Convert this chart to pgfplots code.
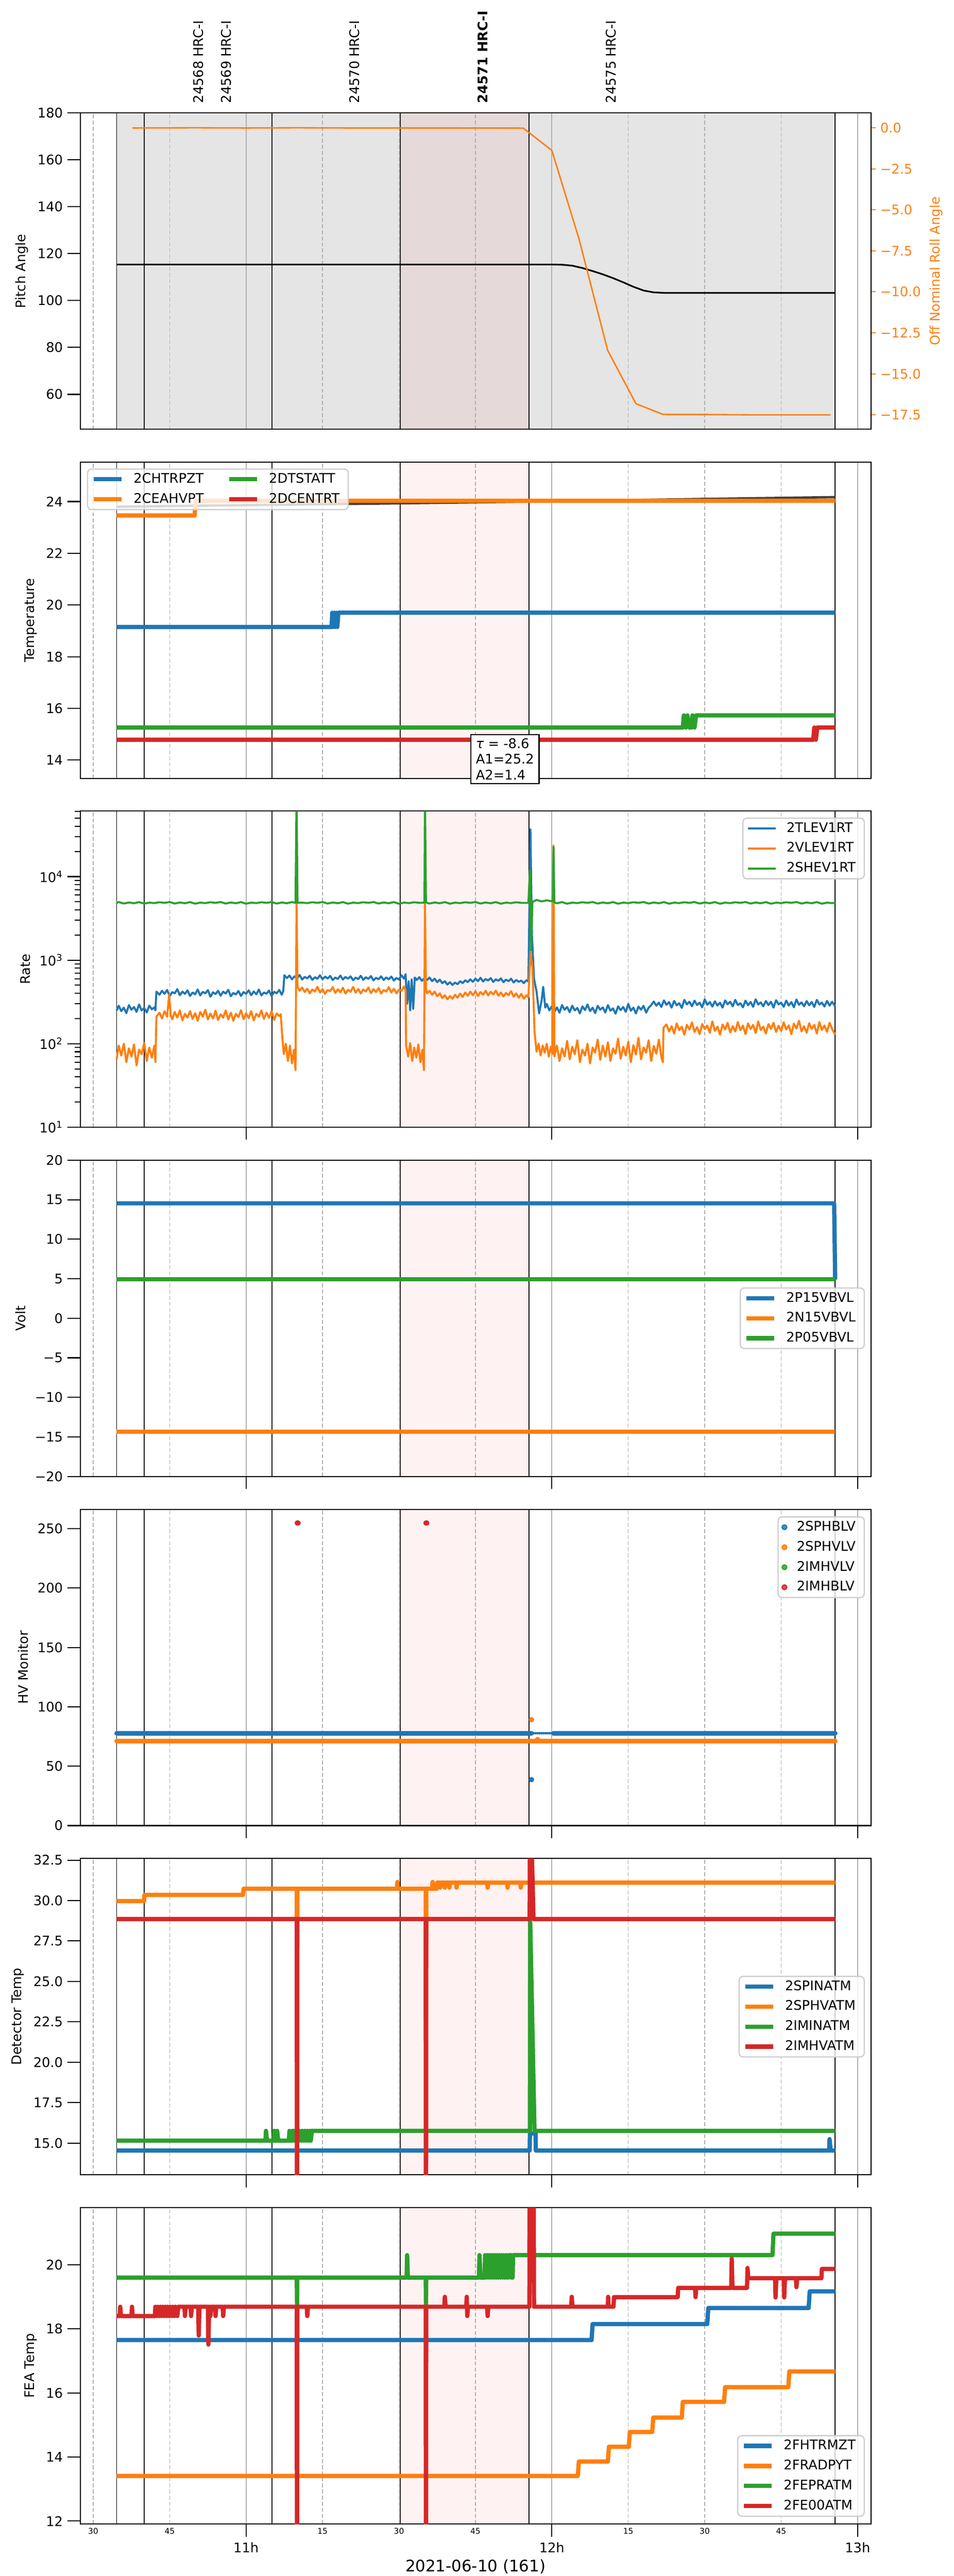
\documentclass[border=0pt]{standalone}
\usepackage{fontspec}
\setmainfont{DejaVu Sans}
\usepackage{pgfplots}
\pgfplotsset{compat=1.18}
\definecolor{mblue}{HTML}{1F77B4}
\definecolor{morange}{HTML}{FF7F0E}
\definecolor{mgreen}{HTML}{2CA02C}
\definecolor{mred}{HTML}{D62728}
\definecolor{gridgray}{HTML}{B0B0B0}
\definecolor{leggray}{HTML}{CCCCCC}
\definecolor{shadegray}{HTML}{E5E5E5}
\newcommand{\ften}{\fontsize{10}{12}\selectfont}
\newcommand{\obslines}[2]{%
\addplot[black, line width=0.7pt, forget plot] coordinates {(34.6,#1)(34.6,#2)};
\addplot[black, line width=0.7pt, forget plot] coordinates {(40.0,#1)(40.0,#2)};
\addplot[black, line width=0.7pt, forget plot] coordinates {(65.1,#1)(65.1,#2)};
\addplot[black, line width=0.7pt, forget plot] coordinates {(90.27,#1)(90.27,#2)};
\addplot[black, line width=0.7pt, forget plot] coordinates {(115.5,#1)(115.5,#2)};
\addplot[black, line width=0.7pt, forget plot] coordinates {(175.6,#1)(175.6,#2)};}
\newcommand{\hourlines}[2]{%
\addplot[gridgray, line width=0.7pt, forget plot, on layer=axis grid] coordinates {(60,#1)(60,#2)};
\addplot[gridgray, line width=0.7pt, forget plot, on layer=axis grid] coordinates {(120,#1)(120,#2)};
\addplot[gridgray, line width=0.7pt, forget plot, on layer=axis grid] coordinates {(180,#1)(180,#2)};}
\newcommand{\pinkband}[2]{%
\addplot[draw=none, fill=red, fill opacity=0.05, forget plot, on layer=axis background] coordinates {(90.27,#1)(115.5,#1)(115.5,#2)(90.27,#2)};}
\newcommand{\obsid}[3]{\node[yshift=7.2pt, rotate=90, anchor=west, inner sep=0pt, font=\ften#3] at (axis cs:#1,180) {#2};}
\newcommand{\xlab}[3]{\node[anchor=base, inner sep=0pt, font=#3] at ({axis cs:#1,15}|-{rel axis cs:0,0}) {#2};}
\pgfplotsset{
  set layers,
  base/.style={
    at={(60.48pt,#1)}, anchor=north west,
    scale only axis, width=596.88pt, height=238.68pt,
    xmin=27.43, xmax=182.62,
    axis line style={line width=0.8pt},
    tick label style={font=\ften},
    label style={font=\ften},
    tick align=outside,
    tick style={black, line width=0.8pt},
    every axis plot/.append style={line join=round},
  },
  panel/.style={
    base=#1,
    xtick={60,120,180}, xticklabels={},
    extra x ticks={30,45,75,90,105,135,150,165}, extra x tick labels={},
    extra x tick style={major tick length=0pt, grid=major,
      major grid style={gridgray, dash pattern=on 3pt off 1.6pt, line width=0.55pt}},
    xmajorgrids, major grid style={gridgray, line width=0.7pt},
    xtick pos=bottom, ytick pos=left,
    major tick length=9.5pt, minor tick length=4pt,
    legend cell align=left,
    legend image code/.code={\draw[##1] (0pt,0pt) -- (21pt,0pt);},
    legend style={font=\ften, draw=leggray, line width=0.9pt, rounded corners=3pt,
      fill=white, fill opacity=0.8, text opacity=1, draw opacity=1,
      inner xsep=3pt, inner ysep=1.5pt, row sep=2.6pt, column sep=4pt,
      nodes={inner xsep=3.5pt, inner ysep=1.5pt, text height=7.5pt, text depth=2pt}},
  },
  nox/.style={xtick=\empty},
}
\begin{document}
\begin{tikzpicture}
%%%%%%%%%%%%%%%% Panel 1
\begin{axis}[panel=1858.68pt, nox, clip mode=individual,
  ymin=45.1, ymax=180, ytick={60,80,100,120,140,160,180},
  yticklabels={60,80,100,120,140,160,180}, ylabel={Pitch Angle}]
\addplot[draw=none, fill=shadegray, forget plot, on layer=axis background] coordinates {(34.6,45.1)(175.6,45.1)(175.6,180)(34.6,180)};
\pinkband{45.1}{180}
\hourlines{45.1}{180}
\obslines{45.1}{180}
\addplot[black, line width=1.25pt] coordinates {(34.6,115.4)(115.5,115.4)(120,115.4)(122,115.3)(124,114.9)(126,113.9)(128,112.6)(130,111.2)(132,109.6)(134,107.8)(136,105.9)(138,104.3)(140,103.5)(142,103.3)(175.6,103.3)};
\obsid{50.64}{24568 HRC-I}{}
\obsid{56.07}{24569 HRC-I}{}
\obsid{81.25}{24570 HRC-I}{}
\obsid{106.43}{24571 HRC-I}{\bfseries}
\obsid{131.61}{24575 HRC-I}{}
\end{axis}
\begin{axis}[base=1858.68pt, axis x line=none, axis y line*=right,
  ymin=-18.38, ymax=0.9, major tick length=3.5pt,
  tick style={morange, line width=0.8pt},
  ytick={0,-2.5,-5,-7.5,-10,-12.5,-15,-17.5},
  yticklabels={0.0,−2.5,−5.0,−7.5,−10.0,−12.5,−15.0,−17.5},
  yticklabel style={morange}, ylabel={Off Nominal Roll Angle}, ylabel style={morange}]
\addplot[morange, line width=1.1pt] coordinates {(37.7,-0.01)(50,0.0)(60,-0.01)(70,0.0)(80,-0.01)(100,-0.01)(114.4,-0.02)(120.0,-1.38)(125.3,-6.74)(130.96,-13.57)(136.5,-16.82)(141.8,-17.47)(150,-17.48)(160,-17.5)(174.7,-17.5)};
\end{axis}
%%%%%%%%%%%%%%%% Panel 2
\begin{axis}[panel=1595.16pt, nox, clip mode=individual,
  ymin=13.29, ymax=25.52, ytick={14,16,18,20,22,24}, yticklabels={14,16,18,20,22,24},
  ylabel={Temperature},
  legend columns=2, transpose legend,
  legend style={at={(0,1)}, anchor=north west, xshift=5.2pt, yshift=-4.7pt,
    /tikz/every even column/.append style={column sep=14pt}}]
\pinkband{13.29}{25.52}
\hourlines{13.29}{25.52}
\obslines{13.29}{25.52}
\addplot[black!75, line width=1.8pt, forget plot] coordinates {(34.6,23.80)(60,23.86)(90,23.93)(120,24.01)(150,24.10)(175.6,24.17)};
\addplot[mblue, line width=3.2pt] coordinates {(34.6,19.15)(76.8,19.15)(76.9,19.70)(77.1,19.15)(77.3,19.70)(77.5,19.15)(77.7,19.70)(77.9,19.15)(78.1,19.70)(175.6,19.70)};
\addlegendentry{2CHTRPZT}
\addplot[morange, line width=3.2pt] coordinates {(34.6,23.46)(49.9,23.46)(50.1,24.03)(175.6,24.03)};
\addlegendentry{2CEAHVPT}
\addplot[mgreen, line width=3.2pt] coordinates {(34.6,15.26)(145.7,15.26)(145.9,15.73)(146.3,15.26)(146.6,15.73)(147.0,15.26)(147.4,15.26)(147.6,15.73)(148.0,15.26)(148.3,15.73)(175.6,15.73)};
\addlegendentry{2DTSTATT}
\addplot[mred, line width=3.2pt] coordinates {(34.6,14.79)(171.3,14.79)(171.5,15.26)(171.8,14.79)(172.1,15.26)(175.6,15.26)};
\addlegendentry{2DCENTRT}
\node[draw=black, line width=0.9pt, fill=white, align=left, inner xsep=3.8pt, inner ysep=2.7pt, font=\ften] at (axis cs:110.8,14.04) {\textit{τ} = -8.6\\A1=25.2\\A2=1.4};
\end{axis}
%%%%%%%%%%%%%%%% Panel 3
\begin{axis}[panel=1332.0pt, ymode=log,
  ymin=10, ymax=61100, ytick={10,100,1000,10000},
  yticklabels={10\textsuperscript{1},10\textsuperscript{2},10\textsuperscript{3},10\textsuperscript{4}},
  minor ytick={20,30,40,50,60,70,80,90,200,300,400,500,600,700,800,900,2000,3000,4000,5000,6000,7000,8000,9000,20000,30000,40000,50000,60000},
  ylabel={Rate},
  legend style={at={(1,1)}, anchor=north east, xshift=-4.6pt, yshift=-5pt}]
\pinkband{10}{61100}
\obslines{10}{61100}
\addplot[mblue, line width=1.5pt] coordinates {
(34.6,250)(35.0,285)(35.5,245)(36.0,270)(36.5,232)(37.0,290)(37.5,255)(38.0,275)(38.5,240)(39.0,295)(39.5,250)(40.0,268)(40.5,236)(41.0,285)(41.5,258)(42.0,272)(42.2,250)(42.4,420)
(43.0,385)(43.5,430)(44.0,395)(44.5,440)(45.0,370)(45.5,415)(46.0,400)(46.5,450)(47.0,380)(47.5,420)(48.0,395)(48.5,435)(49.0,372)(49.5,410)(50.0,390)(50.5,445)(51.0,378)(51.5,418)(52.0,400)(52.5,438)(53.0,365)(53.5,412)(54.0,392)(54.5,430)(55.0,375)(55.5,420)(56.0,398)(56.5,442)(57.0,370)(57.5,405)(58.0,388)(58.5,428)(59.0,372)(59.5,415)(60.0,395)(60.5,436)(61.0,380)(61.5,422)(62.0,390)(62.5,445)(63.0,378)(63.5,410)(64.0,396)(64.5,432)(65.0,372)(65.5,418)(66.0,400)(66.5,440)(67.0,385)(67.3,430)(67.5,660)
(68.0,610)(68.5,655)(69.0,590)(69.5,640)(70.0,600)(70.5,665)(71.0,585)(71.5,630)(72.0,605)(72.5,650)(73.0,580)(73.5,625)(74.0,598)(74.5,660)(75.0,590)(75.5,635)(76.0,602)(76.5,648)(77.0,578)(77.5,620)(78.0,595)(78.5,655)(79.0,585)(79.5,630)(80.0,600)(80.5,640)(81.0,575)(81.5,618)(82.0,592)(82.5,650)(83.0,580)(83.5,625)(84.0,596)(84.5,645)(85.0,572)(85.5,615)(86.0,590)(86.5,640)(87.0,578)(87.5,622)(88.0,588)(88.5,636)(89.0,570)(89.5,612)(90.0,585)(90.5,660)(91.0,600)(91.3,680)
(91.6,300)(91.9,560)(92.2,250)(92.5,590)(92.8,260)(93.1,620)
(93.5,580)(94.0,625)(94.5,565)(95.0,610)(95.5,575)(96.0,620)(96.5,560)(97.0,600)(97.5,545)(98.0,585)(98.5,530)(99.0,560)(99.5,510)(100.0,545)(100.5,505)(101.0,540)(101.5,515)(102.0,560)(102.5,530)(103.0,575)(103.5,545)(104.0,590)(104.5,550)(105.0,600)(105.5,560)(106.0,615)(106.5,555)(107.0,595)(107.5,570)(108.0,610)(108.5,548)(109.0,590)(109.5,565)(110.0,605)(110.5,545)(111.0,585)(111.5,560)(112.0,600)(112.5,540)(113.0,580)(113.5,550)(114.0,570)(114.5,530)(115.0,575)(115.4,555)
(115.8,37000)(116.1,2000)(116.5,600)(117.0,420)(117.5,230)(118.0,330)(118.3,480)(118.7,270)(119.0,300)
(119.5,250)(120.0,280)(120.5,240)(121.0,272)(121.5,235)(122.0,290)(122.5,255)(123.0,275)(123.5,238)(124.0,285)(124.5,250)(125.0,268)(125.5,230)(126.0,280)(126.5,252)(127.0,295)(127.5,245)(128.0,270)(128.5,232)(129.0,284)(129.5,255)(130.0,272)(130.5,236)(131.0,290)(131.5,248)(132.0,265)(132.5,228)(133.0,280)(133.5,252)(134.0,275)(134.5,240)(135.0,300)(135.5,248)(136.0,270)(136.5,230)(137.0,278)(137.5,255)(138.0,284)(138.5,235)(139.0,270)
(139.5,290)(140.0,320)(140.5,285)(141.0,310)(141.5,275)(142.0,330)(142.5,292)(143.0,315)(143.5,270)(144.0,325)(144.5,288)(145.0,305)(145.5,268)(146.0,335)(146.5,295)(147.0,318)(147.5,280)(148.0,328)(148.5,290)(149.0,310)(149.5,272)(150.0,340)(150.5,292)(151.0,315)(151.5,278)(152.0,322)(152.5,286)(153.0,310)(153.5,270)(154.0,330)(154.5,296)(155.0,318)(155.5,280)(156.0,335)(156.5,290)(157.0,305)(157.5,272)(158.0,328)(158.5,288)(159.0,316)(159.5,276)(160.0,340)(160.5,294)(161.0,312)(161.5,280)(162.0,325)(162.5,290)(163.0,318)(163.5,270)(164.0,332)(164.5,295)(165.0,310)(165.5,276)(166.0,328)(166.5,286)(167.0,315)(167.5,272)(168.0,338)(168.5,292)(169.0,312)(169.5,280)(170.0,324)(170.5,288)(171.0,316)(171.5,275)(172.0,335)(172.5,294)(173.0,310)(173.5,278)(174.0,326)(174.5,285)(175.0,318)(175.6,280)};
\addlegendentry{2TLEV1RT}
\addplot[morange, line width=1.5pt] coordinates {
(34.6,65)(35.0,95)(35.5,72)(36.0,100)(36.5,60)(37.0,88)(37.5,70)(38.0,98)(38.5,55)(39.0,85)(39.5,75)(40.0,102)(40.5,62)(41.0,90)(41.5,68)(42.0,95)(42.2,60)(42.4,210)
(43.0,235)(43.5,200)(44.0,245)(44.5,210)(44.9,390)(45.2,220)(45.5,195)(46.0,240)(46.5,205)(47.0,250)(47.5,190)(48.0,228)(48.5,205)(49.0,245)(49.5,198)(50.0,232)(50.5,188)(51.0,240)(51.5,210)(52.0,255)(52.5,195)(53.0,230)(53.5,200)(54.0,248)(54.5,192)(55.0,225)(55.5,205)(56.0,250)(56.5,195)(57.0,235)(57.5,188)(58.0,228)(58.5,208)(59.0,252)(59.5,196)(60.0,232)(60.5,202)(61.0,245)(61.5,190)(62.0,228)(62.5,210)(63.0,250)(63.5,198)(64.0,235)(64.5,205)(65.0,245)(65.5,192)(66.0,230)(66.5,215)(66.8,225)
(67.1,120)(67.4,75)(67.8,100)(68.2,62)(68.6,95)(69.0,58)(69.4,85)(69.7,48)(69.9,5000)(70.1,480)
(70.5,430)(71.0,470)(71.5,415)(72.0,455)(72.5,400)(73.0,445)(73.5,420)(74.0,480)(74.5,410)(75.0,450)(75.5,395)(76.0,440)(76.5,425)(77.0,475)(77.5,405)(78.0,448)(78.5,412)(79.0,468)(79.5,398)(80.0,442)(80.5,418)(81.0,478)(81.5,408)(82.0,452)(82.5,400)(83.0,445)(83.5,422)(84.0,470)(84.5,402)(85.0,450)(85.5,415)(86.0,465)(86.5,398)(87.0,440)(87.5,420)(88.0,475)(88.5,410)(89.0,455)(89.5,400)(90.0,445)(90.5,428)(91.0,485)(91.3,440)
(91.4,95)(91.8,70)(92.2,102)(92.6,62)(93.0,90)(93.4,68)(93.8,98)(94.2,60)(94.6,85)(94.9,48)(95.1,5000)(95.3,450)
(95.5,400)(96.0,430)(96.5,385)(97.0,420)(97.5,370)(98.0,400)(98.5,352)(99.0,380)(99.5,340)(100.0,372)(100.5,345)(101.0,385)(101.5,355)(102.0,398)(102.5,362)(103.0,410)(103.5,375)(104.0,420)(104.5,380)(105.0,425)(105.5,372)(106.0,415)(106.5,385)(107.0,430)(107.5,378)(108.0,418)(108.5,388)(109.0,432)(109.5,375)(110.0,410)(110.5,368)(111.0,405)(111.5,380)(112.0,425)(112.5,365)(113.0,400)(113.5,355)(114.0,395)(114.5,345)(115.0,380)(115.4,360)
(115.8,1250)(116.2,800)(116.6,140)(117.0,80)(117.4,100)(117.8,72)(118.2,95)(118.6,78)(119.0,100)(119.4,70)(119.8,92)(120.1,75)(120.33,23600)(120.5,70)
(121.0,95)(121.5,62)(122.0,88)(122.5,70)(123.0,108)(123.5,65)(124.0,92)(124.5,75)(125.0,110)(125.5,60)(126.0,85)(126.5,72)(127.0,100)(127.5,58)(128.0,90)(128.5,78)(129.0,112)(129.5,64)(130.0,95)(130.5,70)(131.0,104)(131.5,62)(132.0,88)(132.5,76)(133.0,115)(133.5,66)(134.0,92)(134.5,72)(135.0,106)(135.5,60)(136.0,96)(136.5,74)(137.0,118)(137.5,65)(138.0,90)(138.5,78)(139.0,110)(139.5,62)(140.0,94)(140.5,76)(141.0,112)(141.5,68)(141.8,60)(141.9,155)
(142.5,170)(143.0,140)(143.5,162)(144.0,132)(144.5,175)(145.0,145)(145.5,160)(146.0,128)(146.5,168)(147.0,148)(147.5,180)(148.0,138)(148.5,158)(149.0,130)(149.5,172)(150.0,150)(150.5,165)(151.0,135)(151.5,185)(152.0,142)(152.5,160)(153.0,128)(153.5,170)(154.0,148)(154.5,178)(155.0,136)(155.5,162)(156.0,140)(156.5,182)(157.0,145)(157.5,165)(158.0,130)(158.5,175)(159.0,150)(159.5,168)(160.0,134)(160.5,185)(161.0,146)(161.5,160)(162.0,132)(162.5,172)(163.0,150)(163.5,178)(164.0,138)(164.5,164)(165.0,142)(165.5,180)(166.0,148)(166.5,166)(167.0,130)(167.5,174)(168.0,152)(168.5,188)(169.0,140)(169.5,162)(170.0,135)(170.5,176)(171.0,150)(171.5,168)(172.0,132)(172.5,182)(173.0,146)(173.5,165)(174.0,138)(174.5,178)(175.0,150)(175.6,128)};
\addlegendentry{2VLEV1RT}
\addplot[mgreen, line width=1.5pt] coordinates {
(34.6,4850)(35,4960)(36,4760)(37,4900)(38,4800)(39,4950)(40,4740)(41,4880)(42,4820)(43,4930)(44,4850)(45,4960)(46,4760)(47,4900)(48,4800)(49,4950)(50,4740)(51,4880)(52,4820)(53,4930)(54,4850)(55,4960)(56,4760)(57,4900)(58,4800)(59,4950)(60,4740)(61,4880)(62,4820)(63,4930)(64,4850)(65,4960)(66,4760)(67,4900)(68,4800)(69,4950)(69.7,4850)(69.9,100000)(70.1,4850)
(71,4880)(72,4820)(73,4930)(74,4850)(75,4960)(76,4760)(77,4900)(78,4800)(79,4950)(80,4740)(81,4880)(82,4820)(83,4930)(84,4850)(85,4960)(86,4760)(87,4900)(88,4800)(89,4950)(90,4740)(91,4880)(92,4820)(93,4930)(94,4850)(95.0,4880)(95.1,100000)(95.3,4900)
(96,4760)(97,4900)(98,4800)(99,4950)(100,4740)(101,4880)(102,4820)(103,4930)(104,4850)(105,4960)(106,4760)(107,4900)(108,4800)(109,4950)(110,4740)(111,4880)(112,4820)(113,4930)(114,4850)(115.4,4850)(115.7,12000)(115.9,1300)(116.2,5000)(117,5250)(118,5050)(119,5200)(120.2,5050)(120.33,22600)(120.5,4900)
(121,4800)(122,4950)(123,4740)(124,4880)(125,4820)(126,4930)(127,4850)(128,4960)(129,4760)(130,4900)(131,4800)(132,4950)(133,4740)(134,4880)(135,4820)(136,4930)(137,4850)(138,4960)(139,4760)(140,4900)(141,4800)(142,4950)(143,4740)(144,4880)(145,4820)(146,4930)(147,4850)(148,4960)(149,4760)(150,4900)(151,4800)(152,4950)(153,4740)(154,4880)(155,4820)(156,4930)(157,4850)(158,4960)(159,4760)(160,4900)(161,4800)(162,4950)(163,4740)(164,4880)(165,4820)(166,4930)(167,4850)(168,4960)(169,4760)(170,4900)(171,4800)(172,4950)(173,4740)(174,4880)(175,4820)(175.6,4860)};
\addlegendentry{2SHEV1RT}
\end{axis}
%%%%%%%%%%%%%%%% Panel 4
\begin{axis}[panel=1068.48pt,
  ymin=-20, ymax=20, ytick={-20,-15,-10,-5,0,5,10,15,20},
  yticklabels={−20,−15,−10,−5,0,5,10,15,20}, ylabel={Volt},
  legend style={at={(1,0.5)}, anchor=east, xshift=-4.6pt}]
\pinkband{-20}{20}
\obslines{-20}{20}
\addplot[mblue, line width=3.2pt] coordinates {(34.6,14.54)(175.4,14.54)(175.6,4.9)};
\addlegendentry{2P15VBVL}
\addplot[morange, line width=3.2pt] coordinates {(34.6,-14.37)(175.6,-14.37)};
\addlegendentry{2N15VBVL}
\addplot[mgreen, line width=3.2pt] coordinates {(34.6,4.95)(175.6,4.95)};
\addlegendentry{2P05VBVL}
\end{axis}
%%%%%%%%%%%%%%%% Panel 5
\begin{axis}[panel=804.96pt,
  ymin=0, ymax=266.3, ytick={0,50,100,150,200,250},
  yticklabels={0,50,100,150,200,250}, ylabel={HV Monitor},
  legend image code/.code={\draw[#1] plot coordinates {(10.5pt,0pt)};},
  legend style={at={(1,1)}, anchor=north east, xshift=-4.6pt, yshift=-5.3pt}]
\pinkband{0}{266.3}
\obslines{0}{266.3}
\addlegendimage{only marks, mark=*, mark size=1.8pt, mblue}
\addlegendentry{2SPHBLV}
\addlegendimage{only marks, mark=*, mark size=1.8pt, morange}
\addlegendentry{2SPHVLV}
\addlegendimage{only marks, mark=*, mark size=1.8pt, mgreen}
\addlegendentry{2IMHVLV}
\addlegendimage{only marks, mark=*, mark size=1.8pt, mred}
\addlegendentry{2IMHBLV}
\addplot[mblue, line width=3.6pt, line cap=round, forget plot] coordinates {(34.6,77.8)(116.0,77.8)};
\addplot[mblue, line width=3.6pt, line cap=round, forget plot] coordinates {(120.3,77.8)(175.6,77.8)};
\addplot[mblue, only marks, mark=*, mark size=0.8pt, forget plot] coordinates {(116.4,77.8)(116.8,77.8)(117.2,77.8)(117.6,77.8)(118.0,77.8)(118.4,77.8)(118.8,77.8)(119.2,77.8)(119.6,77.8)(120.0,77.8)};
\addplot[morange, line width=3.6pt, line cap=round, forget plot] coordinates {(34.6,71.2)(175.6,71.2)};
\addplot[morange, only marks, mark=*, mark size=1.8pt, forget plot] coordinates {(116.0,89.2)(117.2,72.5)};
\addplot[mblue, only marks, mark=*, mark size=1.8pt, forget plot] coordinates {(116.0,38.7)};
\addplot[mred, only marks, mark=*, mark size=1.8pt, forget plot] coordinates {(70.05,254.8)(70.2,254.8)(95.3,254.8)(95.45,254.8)};
\end{axis}
%%%%%%%%%%%%%%%% Panel 6
\begin{axis}[panel=541.44pt,
  ymin=13.04, ymax=32.6, ytick={15,17.5,20,22.5,25,27.5,30,32.5},
  yticklabels={15.0,17.5,20.0,22.5,25.0,27.5,30.0,32.5}, ylabel={Detector Temp},
  legend style={at={(1,0.5)}, anchor=east, xshift=-4.6pt}]
\pinkband{13.04}{32.6}
\obslines{13.04}{32.6}
\addplot[mblue, line width=3.2pt] coordinates {(34.6,14.54)(115.65,14.54)(115.7,15.6)(116.8,15.6)(116.85,14.54)(174.4,14.54)(174.5,15.25)(174.7,14.54)(175.6,14.54)};
\addlegendentry{2SPINATM}
\addplot[morange, line width=3.2pt] coordinates {(34.6,29.97)(40.0,29.97)(40.05,30.35)(59.4,30.35)(59.5,30.73)(69.95,30.73)(70.0,5)(70.05,30.73)(89.6,30.73)(89.7,31.15)(89.8,30.73)(95.25,30.73)(95.3,5)(95.35,30.73)(96.5,30.73)(96.6,31.15)(96.75,30.73)(97.4,30.73)(97.5,31.11)(98.0,31.11)(98.1,30.8)(98.25,31.11)(98.9,31.11)(99.0,30.8)(99.15,31.11)(99.8,31.11)(99.9,30.8)(100.05,31.11)(101.2,31.11)(101.3,30.8)(101.45,31.11)(107.3,31.11)(107.4,30.8)(107.55,31.11)(111.2,31.11)(111.3,30.8)(111.45,31.11)(113.8,31.11)(113.9,30.8)(114.05,31.11)(175.6,31.11)};
\addlegendentry{2SPHVATM}
\addplot[mgreen, line width=3.2pt] coordinates {(34.6,15.15)(63.8,15.15)(63.9,15.76)(64.1,15.15)(65.4,15.15)(65.5,15.76)(65.7,15.15)(66.0,15.15)(66.1,15.76)(66.3,15.15)(68.4,15.15)(68.5,15.76)(68.7,15.15)(69.0,15.15)(69.1,15.76)(69.3,15.76)(69.4,15.15)(69.6,15.76)(69.8,15.15)(70.0,15.76)(70.3,15.15)(70.5,15.76)(70.8,15.15)(71.0,15.76)(71.3,15.15)(71.5,15.76)(71.8,15.15)(72.0,15.76)(72.3,15.15)(72.5,15.76)(72.7,15.15)(72.9,15.76)(115.7,15.76)(115.75,28.8)(116.6,15.76)(175.6,15.76)};
\addlegendentry{2IMINATM}
\addplot[mred, line width=3.2pt] coordinates {(34.6,28.86)(69.95,28.86)(70.0,5)(70.05,28.86)(95.25,28.86)(95.3,5)(95.35,28.86)(115.65,28.86)(115.7,34)(116.0,34)(116.4,28.86)(175.6,28.86)};
\addlegendentry{2IMHVATM}
\end{axis}
%%%%%%%%%%%%%%%% Panel 7
\begin{axis}[panel=277.92pt, clip mode=individual,
  ymin=11.91, ymax=21.78, ytick={12,14,16,18,20}, yticklabels={12,14,16,18,20},
  ylabel={FEA Temp},
  legend style={at={(1,0)}, anchor=south east, xshift=-4.6pt, yshift=5.4pt}]
\pinkband{11.91}{21.78}
\obslines{11.91}{21.78}
\addplot[mblue, line width=3.2pt] coordinates {(34.6,17.65)(127.8,17.65)(128.0,18.15)(150.5,18.15)(150.7,18.65)(170.4,18.65)(170.6,19.17)(175.6,19.17)};
\addlegendentry{2FHTRMZT}
\addplot[morange, line width=3.2pt] coordinates {(34.6,13.41)(125.1,13.41)(125.3,13.86)(131.0,13.86)(131.2,14.32)(135.1,14.32)(135.3,14.78)(139.7,14.78)(139.9,15.23)(145.5,15.23)(145.7,15.72)(153.8,15.72)(154.0,16.18)(166.4,16.18)(166.6,16.67)(175.6,16.67)};
\addlegendentry{2FRADPYT}
\addplot[mgreen, line width=3.2pt] coordinates {(34.6,19.6)(69.95,19.6)(70.0,18.7)(70.05,19.6)(91.5,19.6)(91.6,20.3)(91.75,19.6)(95.25,19.6)(95.3,18.7)(95.35,19.6)(105.7,19.6)(105.8,20.3)(106.0,19.6)(106.8,19.6)(106.9,20.3)(107.1,19.6)(107.3,20.3)(107.5,19.6)(107.7,20.3)(107.9,19.6)(108.1,20.3)(108.3,19.6)(108.5,20.3)(108.7,19.6)(108.9,20.3)(109.1,19.6)(109.3,20.3)(109.5,19.6)(109.7,20.3)(109.9,19.6)(110.1,20.3)(110.3,19.6)(110.5,20.3)(110.7,19.6)(110.9,20.3)(111.1,19.6)(111.3,20.3)(111.5,19.6)(111.7,20.3)(112.0,20.3)(112.1,19.6)(112.3,19.6)(112.4,20.3)(115.6,20.3)(115.7,25)(116.4,20.3)(163.3,20.3)(163.5,20.97)(175.6,20.97)};
\addlegendentry{2FEPRATM}
\addplot[mred, line width=3.2pt] coordinates {(34.6,18.4)(35.2,18.4)(35.3,18.69)(35.45,18.4)(37.5,18.4)(37.6,18.69)(37.75,18.4)(42.1,18.4)(42.2,18.69)(42.5,18.4)(42.7,18.69)(43.0,18.4)(43.2,18.69)(43.4,18.4)(43.6,18.69)(43.9,18.4)(44.1,18.69)(44.4,18.4)(44.6,18.69)(44.9,18.4)(45.1,18.69)(45.4,18.4)(45.6,18.69)(45.9,18.4)(46.1,18.69)(46.5,18.4)(46.7,18.69)(47.9,18.69)(48.0,18.4)(48.15,18.69)(49.1,18.69)(49.2,18.4)(49.35,18.69)(50.6,18.69)(50.7,17.79)(50.85,18.69)(52.5,18.69)(52.6,17.51)(52.75,18.69)(52.9,18.69)(53.0,18.4)(53.15,18.69)(53.9,18.69)(54.0,18.4)(54.15,18.69)(55.4,18.69)(55.5,18.4)(55.65,18.69)(69.95,18.69)(70.0,5)(70.05,18.69)(71.9,18.69)(72.0,18.4)(72.15,18.69)(95.25,18.69)(95.3,5)(95.35,18.69)(98.9,18.69)(99.0,19.0)(99.15,18.69)(103.2,18.69)(103.3,19.0)(103.4,18.4)(103.55,18.69)(107.3,18.69)(107.4,18.4)(107.55,18.69)(115.6,18.69)(115.7,25)(116.4,25)(116.5,18.69)(123.8,18.69)(123.9,19.0)(124.05,18.69)(131.0,18.69)(131.05,19.0)(131.15,18.69)(132.1,18.69)(132.2,18.99)(144.7,18.99)(144.8,19.28)(148.1,19.28)(148.2,18.99)(148.35,19.28)(155.2,19.28)(155.3,20.19)(155.45,19.28)(158.3,19.28)(158.4,19.9)(158.55,19.58)(163.8,19.58)(163.9,18.98)(164.05,19.58)(165.5,19.58)(165.6,18.98)(165.75,19.58)(167.9,19.58)(168.0,19.3)(168.15,19.58)(172.9,19.58)(173.0,19.87)(175.6,19.87)};
\addlegendentry{2FE00ATM}
\xlab{30}{30}{\fontsize{6}{7}\selectfont, yshift=-7.6pt}
\xlab{45}{45}{\fontsize{6}{7}\selectfont, yshift=-7.6pt}
\xlab{75}{15}{\fontsize{6}{7}\selectfont, yshift=-7.6pt}
\xlab{90}{30}{\fontsize{6}{7}\selectfont, yshift=-7.6pt}
\xlab{105}{45}{\fontsize{6}{7}\selectfont, yshift=-7.6pt}
\xlab{135}{15}{\fontsize{6}{7}\selectfont, yshift=-7.6pt}
\xlab{150}{30}{\fontsize{6}{7}\selectfont, yshift=-7.6pt}
\xlab{165}{45}{\fontsize{6}{7}\selectfont, yshift=-7.6pt}
\xlab{60}{11h}{\ften, yshift=-21.6pt}
\xlab{120}{12h}{\ften, yshift=-21.6pt}
\xlab{180}{13h}{\ften, yshift=-21.6pt}
\node[anchor=base, inner sep=0pt, font=\fontsize{12}{14}\selectfont, yshift=-36.1pt] at (rel axis cs:0.5,0) {2021-06-10 (161)};
\end{axis}
\pgfresetboundingbox
\path[use as bounding box] (0,0) rectangle (720pt,1944pt);
\end{tikzpicture}
\end{document}
